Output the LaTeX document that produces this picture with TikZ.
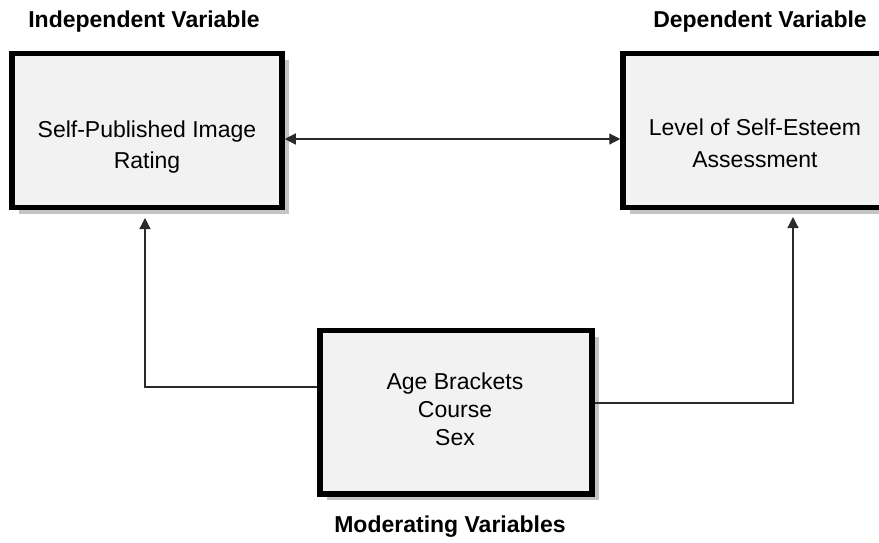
\documentclass[tikz,border=0pt]{standalone}
\usepackage{fontspec}
\setmainfont{Liberation Sans}
\usetikzlibrary{arrows.meta,shadows}
\definecolor{boxfill}{HTML}{F2F2F2}
\definecolor{shadowgrey}{HTML}{C4C4C4}
\definecolor{linegrey}{HTML}{2A2A2A}
\begin{document}
\begin{tikzpicture}[x=1pt,y=-1pt,
  varbox/.style={draw=black, line width=5.5pt, fill=boxfill, rectangle,
    drop shadow={shadow xshift=6.5pt, shadow yshift=-6.5pt, fill=shadowgrey, opacity=1}},
  body/.style={font=\fontsize{23}{27}\selectfont, anchor=base, inner sep=0pt},
  heading/.style={font=\fontsize{23}{27}\selectfont\bfseries, anchor=base, inner sep=0pt},
  tip/.style={Triangle[length=11pt,width=11pt]},
  conn/.style={draw=linegrey, line width=1.2pt, -{Triangle[length=11pt,width=11pt]}},
  conn2/.style={draw=linegrey, line width=1.2pt, {Triangle[length=11pt,width=11pt]}-{Triangle[length=11pt,width=11pt]}}]
\useasboundingbox (0,0) rectangle (879,542);
\clip (0,0) rectangle (879,542);
% boxes
\node[varbox, minimum width=270pt, minimum height=154pt] (lb) at (147,130.5) {};
\node[varbox, minimum width=274pt, minimum height=154pt] (rb) at (760,130.5) {};
\node[varbox, minimum width=272pt, minimum height=163.5pt] (bb) at (456,412) {};
% headings
\node[heading] (hind) at (144,27) {Independent Variable};
\node[heading] (hdep) at (760,27) {Dependent Variable};
\node[heading] (hmod) at (450,532) {Moderating Variables};
% box texts
\node[body] (lt1) at (147,137) {Self-Published Image};
\node[body] (lt2) at (147,168) {Rating};
\node[body] (rt1) at (755,135) {Level of Self-Esteem};
\node[body] (rt2) at (755,167) {Assessment};
\node[body] (bt1) at (455,389) {Age Brackets};
\node[body] (bt2) at (455,417) {Course};
\node[body] (bt3) at (455,445) {Sex};
% connectors
\coordinate (mid) at (450,139);
\draw[conn2] (lb.east |- mid) -- (rb.west |- mid);
\coordinate (lc) at (145,387);
\coordinate (ltip) at (145,218);
\draw[conn] (bb.west |- lc) -- (lc) -- (ltip);
\coordinate (rc) at (793,403);
\coordinate (rtip) at (793,217);
\draw[conn] (bb.east |- rc) -- (rc) -- (rtip);
\end{tikzpicture}
\end{document}
